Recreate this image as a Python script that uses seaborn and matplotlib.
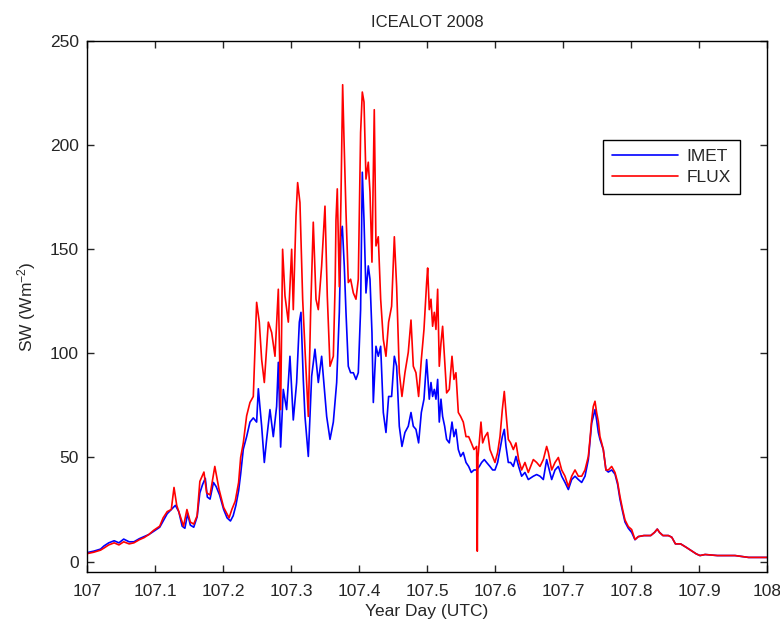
import numpy as np
import pandas as pd
import matplotlib
matplotlib.use("Agg")
import matplotlib.pyplot as plt
import seaborn as sns

# ---------------- data ----------------
imet_day = [107.000, 107.010, 107.020, 107.025, 107.032, 107.040, 107.047, 107.054, 107.062, 107.069,
            107.077, 107.084, 107.091, 107.098, 107.107, 107.112, 107.118, 107.124, 107.130, 107.135,
            107.140, 107.144, 107.148, 107.152, 107.157, 107.162, 107.166, 107.170, 107.174, 107.177,
            107.181, 107.186, 107.190, 107.195, 107.201, 107.206, 107.211, 107.215, 107.219, 107.223,
            107.226, 107.2299, 107.2348, 107.2397, 107.2446, 107.2495, 107.2520, 107.2569, 107.2608, 107.2642,
            107.2691, 107.2740, 107.2789, 107.2814, 107.2848, 107.2887, 107.2936, 107.2985, 107.3034, 107.3083,
            107.3123, 107.3147, 107.3181, 107.3206, 107.3255, 107.3304, 107.3353, 107.3402, 107.3451, 107.3525,
            107.3574, 107.3623, 107.3672, 107.3711, 107.3735, 107.3755, 107.3784, 107.3809, 107.3843, 107.3877,
            107.3917, 107.3956, 107.3990, 107.4024, 107.4049, 107.4074, 107.4103, 107.4137, 107.4162, 107.4191,
            107.4211, 107.4250, 107.4284, 107.4319, 107.4358, 107.4397, 107.4436, 107.4480, 107.4520, 107.4554,
            107.4593, 107.4632, 107.4676, 107.4725, 107.4765, 107.4799, 107.4838, 107.4877, 107.4917, 107.4956,
            107.4995, 107.5034, 107.5059, 107.5083, 107.5108, 107.5132, 107.5157, 107.5181, 107.5206, 107.5230,
            107.5260, 107.5289, 107.5328, 107.5368, 107.5397, 107.5426, 107.5461, 107.5495, 107.5534, 107.5574,
            107.5613, 107.5652, 107.5691, 107.5730, 107.5770, 107.5804, 107.5843, 107.5877, 107.5926, 107.5966,
            107.6000, 107.6039, 107.6074, 107.6108, 107.6137, 107.6162, 107.6196, 107.6230, 107.6270, 107.6309,
            107.6348, 107.6392, 107.6441, 107.6490, 107.6564, 107.6613, 107.6662, 107.6711, 107.6760, 107.6785,
            107.6834, 107.6883, 107.6932, 107.6981, 107.7030, 107.7079, 107.7128, 107.7177, 107.7226, 107.7275,
            107.7324, 107.7373, 107.7422, 107.7471, 107.7495, 107.7520, 107.7544, 107.7593, 107.7632, 107.7667,
            107.7716, 107.7765, 107.7804, 107.7838, 107.7877, 107.7912, 107.7961, 107.8010, 107.8059, 107.8108,
            107.819, 107.829, 107.8346, 107.8387, 107.842, 107.847, 107.855, 107.860, 107.8654, 107.873,
            107.881, 107.8885, 107.896, 107.9015, 107.909, 107.927, 107.953, 107.973, 108.000]
imet_sw = [4.3, 5.0, 6.0, 7.5, 9.0, 10.0, 9.0, 10.8, 9.5, 9.5,
           11.0, 12.0, 13.0, 14.5, 16.5, 19.5, 23.0, 25.0, 27.0, 24.0,
           17.0, 16.0, 23.0, 17.5, 16.5, 21.5, 33.0, 37.0, 40.0, 31.0,
           30.0, 38.0, 36.0, 32.0, 25.0, 21.0, 19.5, 22.0, 27.0, 34.0,
           42.0, 54.0, 60.0, 67.0, 69.0, 67.0, 83.0, 65.0, 47.6, 58.7,
           73.0, 60.0, 74.5, 95.7, 55.0, 82.7, 73.0, 98.6, 68.0, 86.0,
           115.0, 119.7, 87.5, 69.7, 50.5, 89.0, 102.0, 86.0, 98.6, 69.7,
           58.7, 67.0, 86.0, 119.7, 156.0, 161.0, 142.0, 119.7, 93.8, 90.7,
           90.7, 87.5, 90.7, 121.0, 187.0, 164.0, 129.0, 142.0, 135.6, 110.0,
           76.4, 103.4, 98.6, 103.4, 71.6, 62.0, 79.3, 79.3, 98.6, 93.8,
           65.0, 55.3, 62.0, 65.0, 71.6, 65.0, 63.5, 57.0, 71.6, 78.0,
           97.0, 78.0, 86.0, 79.3, 82.7, 78.0, 87.5, 67.0, 78.0, 69.7,
           65.0, 58.7, 57.0, 67.0, 60.0, 63.5, 53.8, 50.5, 52.4, 47.6,
           45.7, 42.8, 44.0, 44.0, 45.7, 47.6, 49.0, 47.6, 45.7, 44.0,
           44.0, 47.6, 53.8, 60.0, 63.5, 55.3, 47.6, 47.6, 45.7, 50.5,
           45.7, 41.0, 42.8, 39.4, 41.0, 41.8, 41.0, 39.4, 49.0, 45.7,
           39.4, 44.0, 45.7, 41.0, 38.0, 34.6, 39.4, 41.0, 39.4, 38.0,
           41.0, 49.0, 66.5, 73.0, 68.0, 62.0, 58.7, 53.8, 44.0, 43.0,
           44.0, 42.0, 37.0, 30.0, 24.0, 19.0, 16.0, 14.0, 10.5, 12.0,
           12.5, 12.5, 14.0, 15.6, 14.0, 12.5, 12.5, 11.7, 8.5, 8.5,
           6.9, 5.3, 3.7, 2.9, 3.4, 2.9, 2.9, 2.0, 2.0]

flux_day = [107.000, 107.010, 107.020, 107.025, 107.032, 107.040, 107.047, 107.054, 107.062, 107.069,
            107.077, 107.084, 107.091, 107.098, 107.107, 107.112, 107.118, 107.124, 107.128, 107.132,
            107.137, 107.142, 107.147, 107.152, 107.157, 107.162, 107.166, 107.172, 107.176, 107.181,
            107.188, 107.194, 107.201, 107.209, 107.213, 107.218, 107.223, 107.226, 107.2299, 107.2348,
            107.2397, 107.2446, 107.2495, 107.2534, 107.2569, 107.2608, 107.2667, 107.2716, 107.2765, 107.2814,
            107.2848, 107.2877, 107.2912, 107.2961, 107.3010, 107.3034, 107.3074, 107.3098, 107.3132, 107.3172,
            107.3206, 107.3255, 107.3289, 107.3328, 107.3368, 107.3402, 107.3451, 107.3500, 107.3534, 107.3574,
            107.3623, 107.3650, 107.3662, 107.3681, 107.3711, 107.3735, 107.3760, 107.3779, 107.3809, 107.3843,
            107.3877, 107.3917, 107.3956, 107.3990, 107.4024, 107.4049, 107.4074, 107.4103, 107.4137, 107.4162,
            107.4191, 107.4225, 107.4250, 107.4284, 107.4319, 107.4358, 107.4397, 107.4436, 107.4480, 107.4520,
            107.4554, 107.4593, 107.4632, 107.4676, 107.4725, 107.4765, 107.4799, 107.4838, 107.4877, 107.4917,
            107.4956, 107.4995, 107.5010, 107.5034, 107.5059, 107.5083, 107.5108, 107.5132, 107.5157, 107.5181,
            107.5206, 107.5230, 107.5260, 107.5289, 107.5328, 107.5368, 107.5397, 107.5426, 107.5461, 107.5495,
            107.5534, 107.5574, 107.5613, 107.5652, 107.5691, 107.5730, 107.5740, 107.5750, 107.5760, 107.5794,
            107.5819, 107.5853, 107.5892, 107.5926, 107.5966, 107.6000, 107.6039, 107.6074, 107.6108, 107.6137,
            107.6162, 107.6196, 107.6230, 107.6270, 107.6309, 107.6348, 107.6392, 107.6441, 107.6490, 107.6564,
            107.6613, 107.6662, 107.6711, 107.6760, 107.6785, 107.6834, 107.6883, 107.6932, 107.6981, 107.7030,
            107.7079, 107.7128, 107.7177, 107.7226, 107.7275, 107.7324, 107.7373, 107.7397, 107.7422, 107.7446,
            107.7471, 107.7495, 107.7520, 107.7544, 107.7569, 107.7593, 107.7632, 107.7667, 107.7716, 107.7765,
            107.7804, 107.7838, 107.7877, 107.7912, 107.7961, 107.8010, 107.8059, 107.8108, 107.819, 107.829,
            107.8346, 107.8387, 107.842, 107.847, 107.855, 107.860, 107.8654, 107.873, 107.881, 107.8885,
            107.896, 107.9015, 107.909, 107.927, 107.953, 107.973, 108.000]
flux_sw = [3.8, 4.5, 5.5, 6.5, 8.0, 9.0, 8.0, 9.5, 8.5, 9.0,
           10.5, 11.5, 13.0, 15.0, 17.0, 21.0, 24.0, 25.0, 35.6, 27.0,
           22.0, 17.0, 25.0, 19.0, 18.0, 22.0, 38.5, 43.0, 33.0, 32.0,
           45.7, 35.0, 26.0, 21.0, 25.0, 29.0, 38.0, 50.0, 57.0, 70.0,
           76.4, 79.3, 124.5, 115.0, 97.0, 86.0, 115.0, 110.0, 98.6, 130.8,
           73.0, 150.0, 127.6, 115.0, 150.0, 121.0, 166.0, 182.0, 172.4, 126.0,
           102.0, 69.7, 119.7, 163.0, 126.0, 121.0, 142.0, 170.7, 127.6, 93.8,
           98.6, 134.0, 164.0, 179.0, 132.0, 174.0, 229.0, 204.0, 168.0, 134.0,
           135.6, 129.0, 126.0, 135.6, 206.0, 225.5, 220.7, 183.7, 191.8, 177.4,
           143.8, 217.0, 151.6, 156.0, 126.0, 106.7, 98.6, 115.0, 122.6, 156.0,
           132.0, 90.7, 79.3, 90.7, 100.5, 116.0, 93.8, 90.7, 79.3, 97.0,
           111.5, 134.0, 141.0, 121.0, 126.0, 113.0, 119.7, 111.5, 130.8, 93.8,
           105.0, 113.0, 97.0, 81.0, 82.7, 98.6, 87.5, 90.7, 71.6, 69.7,
           67.0, 60.0, 60.0, 57.0, 53.8, 55.3, 5.0, 50.0, 53.8, 67.0,
           57.0, 60.0, 62.0, 53.8, 50.5, 47.6, 52.4, 60.0, 73.0, 81.7,
           71.6, 58.7, 57.0, 53.8, 57.0, 49.0, 44.0, 47.6, 42.8, 49.0,
           47.6, 45.7, 49.0, 55.3, 52.4, 44.0, 47.6, 50.0, 44.0, 41.0,
           36.0, 41.0, 44.0, 41.0, 41.0, 44.0, 50.5, 58.7, 68.0, 74.5,
           77.0, 71.6, 67.3, 60.0, 57.0, 53.8, 44.0, 44.0, 45.7, 42.8,
           38.0, 31.3, 25.0, 20.0, 16.8, 15.4, 10.6, 12.0, 12.5, 12.5,
           14.0, 15.6, 14.0, 12.5, 12.5, 11.7, 8.5, 8.5, 6.9, 5.3,
           3.7, 2.9, 3.4, 2.9, 2.9, 2.0, 2.0]

x_ticks = [107.0, 107.1, 107.2, 107.3, 107.4, 107.5, 107.6, 107.7, 107.8, 107.9, 108.0]
x_tick_labels = ["107", "107.1", "107.2", "107.3", "107.4", "107.5", "107.6", "107.7", "107.8", "107.9", "108"]
y_ticks = [0, 50, 100, 150, 200, 250]
series_names = ["IMET", "FLUX"]

# ---------------- plot ----------------
sns.set_style("ticks")
plt.rcParams["font.family"] = ["Liberation Sans", "DejaVu Sans"]
plt.rcParams["mathtext.default"] = "regular"

df = pd.concat([
    pd.DataFrame({"day": imet_day, "sw": imet_sw, "src": series_names[0]}),
    pd.DataFrame({"day": flux_day, "sw": flux_sw, "src": series_names[1]}),
], ignore_index=True)

fig = plt.figure(figsize=(7.8, 6.34), dpi=100)
ax = fig.add_axes([0.1115, 0.0978, 0.8718, 0.8375])

sns.lineplot(data=df, x="day", y="sw", hue="src", hue_order=series_names,
             palette={"IMET": "#0000ff", "FLUX": "#ff0000"},
             estimator=None, sort=False, linewidth=1.2, ax=ax)

ax.set_xlim(107.0, 108.0)
ax.set_ylim(-5, 250)
ax.set_xticks(x_ticks)
ax.set_xticklabels(x_tick_labels)
ax.set_yticks(y_ticks)
ax.tick_params(direction="in", top=True, right=True, length=5, width=1,
               labelsize=12.5, pad=6)
ax.tick_params(axis="x", pad=9)
for s in ax.spines.values():
    s.set_visible(True)
    s.set_linewidth(1.0)
    s.set_color("black")

ax.set_title("ICEALOT 2008", fontsize=12, pad=10)
ax.set_xlabel("Year Day (UTC)", fontsize=12.5, labelpad=3)
ax.set_ylabel("SW (Wm$^{-2}$)", fontsize=12.5, labelpad=8)

handles, labels = ax.get_legend_handles_labels()
leg = ax.legend(handles, labels, loc="upper right", bbox_to_anchor=(0.960, 0.8136),
                borderaxespad=0, fancybox=False, framealpha=1, edgecolor="black",
                fontsize=12.5, handlelength=3.8, handletextpad=0.5, borderpad=0.5,
                labelspacing=0.35)
leg.get_frame().set_linewidth(1.0)
for ln in leg.get_lines():
    ln.set_linewidth(1.2)

fig.savefig("out.png", dpi=100)
